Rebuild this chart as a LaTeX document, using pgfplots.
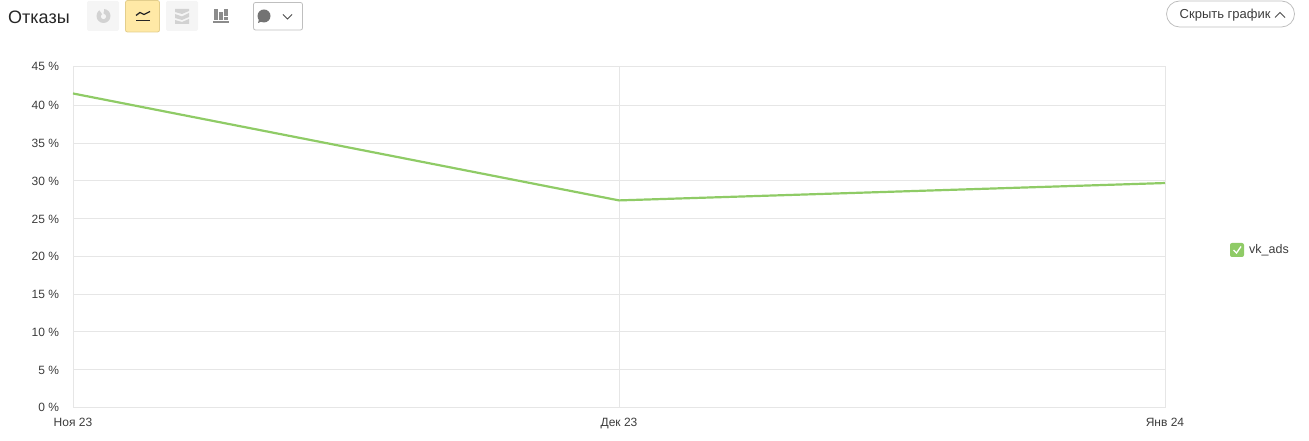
\documentclass[border=0pt]{standalone}
\usepackage{fontspec}
\setmainfont{Liberation Sans}
\usepackage{pgfplots}
\pgfplotsset{compat=1.18}
\definecolor{gridc}{HTML}{E6E6E6}
\definecolor{linec}{HTML}{8FCB66}
\definecolor{txt}{HTML}{3C3C3C}
\definecolor{iconc}{HTML}{D2D2D2}
\definecolor{btn}{HTML}{F5F5F5}
\definecolor{btny}{HTML}{FFE9A6}
\definecolor{btnyb}{HTML}{E3CE8C}
\begin{document}
\begin{tikzpicture}[x=1pt,y=1pt]
\path (0,0) rectangle (1309,441);
\begin{axis}[
  at={(73pt,33.7pt)}, anchor=south west,
  scale only axis, width=1092pt, height=341.3pt,
  xmin=0, xmax=2, ymin=0, ymax=45.2,
  xtick={0,1,2}, xticklabels={Ноя 23,Дек 23,Янв 24},
  ytick={0,5,10,15,20,25,30,35,40,45.2},
  yticklabels={0 \%,5 \%,10 \%,15 \%,20 \%,25 \%,30 \%,35 \%,40 \%,45 \%},
  grid=both,
  grid style={gridc,line width=0.9pt},
  axis line style={gridc,line width=0.9pt},
  tick style={draw=none},
  tick label style={font=\fontsize{12}{14}\selectfont,text=txt},
  yticklabel style={xshift=-10.5pt,yshift=-0.5pt},
  xticklabel style={yshift=-7.5pt},
  clip=false,
]
\addplot[linec,line width=2.2pt] coordinates {(0,41.56) (1,27.4) (2,29.7)};
\end{axis}
\begin{scope}[shift={(0,441)},y=-1pt]
  \node[anchor=west,text=black!85,inner sep=0pt,font=\fontsize{18}{20}\selectfont] at (8,17) {Отказы};
  % button backgrounds
  \fill[btn,rounded corners=1.5pt] (87,1) rectangle (119,31);
  \filldraw[fill=btny,draw=btnyb,line width=0.8pt,rounded corners=2pt] (125.5,0.5) rectangle (159.5,32);
  \fill[btn,rounded corners=1.5pt] (166,1) rectangle (198,31);
  % pie icon
  \fill[iconc] (103.5,16) circle (7);
  \fill[btn] (103.5,16.5) circle (2.6);
  \fill[btn] (103.5,16) -- (98,8) -- (104,7) -- cycle;
  % line icon
  \draw[black!85,line width=1.3pt] (136,15.5) -- (140,12.5) -- (144,14.5) -- (150,11.5);
  \draw[black!85,line width=1.3pt] (136,20.5) -- (150,20.5);
  % stacked area icon
  \fill[iconc] (175,9) -- (189,9) -- (189,11) -- (182,14) -- (175,12) -- cycle;
  \fill[iconc] (175,14) -- (182,16.5) -- (189,13) -- (189,17) -- (182,20) -- (175,18) -- cycle;
  \fill[iconc] (175,20) -- (182,22) -- (189,19) -- (189,24) -- (175,24) -- cycle;
  % bars icon
  \foreach \xx/\yy/\zz in {214/9/20,219/12/20,224/9/16,224/17/20}{\fill[black!45] (\xx,\yy) rectangle (\xx+4,\zz);}
  \fill[black!45] (213,21.5) rectangle (229,23.5);
  % comment dropdown
  \draw[black!25,rounded corners=2pt,line width=0.8pt] (253.5,2.5) rectangle (302.5,30);
  \fill[black!55] (264,16) circle (6.5);
  \fill[black!55] (259,19) -- (258,23) -- (263,21) -- cycle;
  \draw[black!70,line width=0.9pt] (283,14.5) -- (287.5,19) -- (292,14.5);
  % hide button
  \draw[black!25,rounded corners=13pt,line width=0.8pt] (1166.5,1) rectangle (1294.5,27);
  \node[anchor=west,text=txt,inner sep=0pt,font=\fontsize{13}{15}\selectfont] at (1179.5,15) {Скрыть график};
  \draw[black!70,line width=0.9pt] (1275,17.5) -- (1280,12.5) -- (1285,17.5);
  % legend
  \fill[linec,rounded corners=2pt] (1230,243) rectangle (1244,257);
  \draw[white,line width=1.3pt] (1233.5,250) -- (1236.5,253) -- (1241,246.5);
  \node[anchor=west,text=txt,inner sep=0pt,font=\fontsize{12.5}{14}\selectfont] at (1249,250.5) {vk\_ads};
\end{scope}
\end{tikzpicture}
\end{document}
